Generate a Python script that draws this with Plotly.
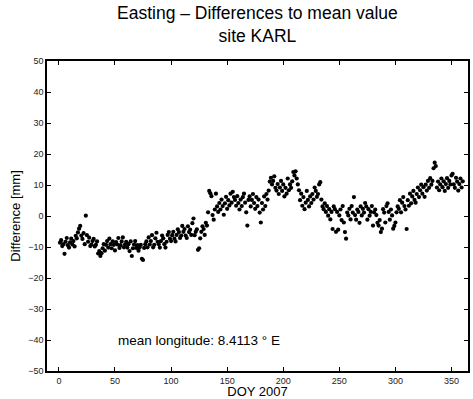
import plotly.graph_objects as go

doy = list(range(1, 361))

diff_mm = [
    -8.6, -7.8, -9.7, -9.1, -12.2, -8.3, -7.1, -9.4, -10.2, -8.5,
    -7.3, -9.2, -8.1, -9.8, -6.4, -7.2, -5.3, -4.1, -3.2, -6.3,
    -7.4, -5.5, -9.1, 0.1, -6.2, -8.3, -7.0, -9.7, -9.2, -8.1,
    -7.4, -9.8, -9.3, -8.2, -12.1, -11.3, -12.9, -12.0, -10.4, -9.1,
    -11.2, -9.3, -8.1, -10.2, -7.3, -9.1, -10.4, -8.2, -9.3, -11.1,
    -8.4, -9.2, -7.1, -10.3, -9.4, -8.2, -6.9, -10.1, -9.2, -8.3,
    -10.2, -9.1, -11.3, -8.2, -12.9, -10.4, -9.2, -8.1, -10.3, -9.4,
    -11.2, -10.1, -9.3, -13.8, -14.2, -10.3, -9.1, -8.2, -10.1, -6.9,
    -9.2, -8.1, -6.2, -10.1, -9.3, -7.2, -5.4, -8.3, -9.1, -10.2,
    -8.1, -6.3, -7.2, -9.1, -10.2, -8.3, -6.1, -5.2, -7.3, -8.1,
    -6.2, -5.1, -7.3, -8.2, -6.1, -4.3, -5.2, -7.1, -6.3, -3.2,
    -5.1, -4.2, -6.3, -7.1, -3.3, -5.2, -4.4, -6.1, -2.3, -0.8,
    -6.2, -5.1, -4.3, -10.9, -10.4, -7.2, -5.1, -3.3, -4.2, -6.1,
    -2.2, -3.1, 1.2, 8.1, 7.3, 6.4, 0.3, -1.2, 2.1, 7.2,
    3.1, 1.3, 4.2, 2.1, 5.3, 3.2, 0.4, 4.1, 6.2, 2.3,
    5.1, 3.4, 7.2, 4.3, 7.8, 6.1, 5.2, 3.3, 6.4, 4.2,
    2.1, 5.3, 3.2, 6.1, 7.2, 4.3, 1.2, -3.1, 5.2, 6.3,
    3.1, 5.2, 7.1, 4.2, 2.3, 6.1, 3.2, 5.3, 1.1, -2.1,
    4.2, 2.1, 6.3, 3.2, 7.1, 5.3, 8.2, 11.1, 12.3, 10.2,
    11.3, 12.8, 9.1, 8.2, 10.3, 7.1, 9.2, 11.3, 8.1, 10.2,
    6.3, 9.1, 7.2, 12.1, 8.3, 10.2, 9.1, 11.2, 14.2, 13.1,
    14.4, 12.1, 10.2, 8.3, 5.1, 7.2, 3.3, 6.1, 2.2, 4.3,
    8.1, 5.2, 3.1, 6.3, 4.2, 7.1, 5.3, 9.2, 8.1, 6.2,
    7.1, 10.2, 10.9, 5.3, 3.1, 2.2, 4.1, 1.3, 3.2, 0.1,
    2.2, -1.1, 1.3, -4.2, 3.1, 2.2, -5.1, 1.3, -4.4, 0.2,
    2.1, -1.3, 3.2, -2.1, -5.2, -7.3, 1.1, 0.2, 2.3, -1.1,
    3.2, 1.1, 6.1, 0.3, -1.2, 2.1, 1.3, -2.2, 3.1, 0.2,
    2.3, 1.1, 4.2, 3.1, -1.2, 2.2, 0.1, 1.3, 3.2, -3.1,
    1.2, 2.1, 0.3, -2.2, -3.1, -1.3, -5.2, -4.1, 2.2, 1.1,
    -2.1, 3.2, 4.1, 1.3, -1.2, 2.1, 0.2, -4.1, -3.2, -2.1,
    1.2, 3.1, 2.3, 5.1, 1.2, 4.3, 6.1, 3.2, 2.1, -4.2,
    5.1, 3.3, 7.2, 4.1, 6.3, 8.1, 5.2, 4.3, 7.1, 9.2,
    6.1, 8.3, 10.1, 7.2, 9.3, 6.2, 10.1, 8.2, 11.3, 9.1,
    12.2, 10.1, 11.3, 15.4, 17.2, 16.1, 9.2, 11.1, 8.3, 10.2,
    12.1, 9.3, 11.2, 8.1, 10.3, 12.2, 9.1, 11.3, 10.2, 13.1,
    13.6, 10.2, 9.1, 12.3, 11.1, 8.2, 10.3, 12.1, 9.2, 11.2,
]

x_ticks = [0, 50, 100, 150, 200, 250, 300, 350]
y_ticks = [-50, -40, -30, -20, -10, 0, 10, 20, 30, 40, 50]

font_family = "Liberation Sans, Arial, sans-serif"

fig = go.Figure()
fig.add_trace(go.Scatter(
    x=doy, y=diff_mm, mode="markers",
    marker=dict(color="black", size=4.2),
    showlegend=False,
))

fig.add_annotation(
    x=125, y=-40, xref="x", yref="y",
    text="mean longitude: 8.4113 ° E", showarrow=False,
    font=dict(family=font_family, size=13.5, color="black"),
)

# Title (two lines) placed above the plot area
fig.add_annotation(
    x=0.5, y=1.0 + 60 / 311, xref="paper", yref="paper",
    xanchor="center", yanchor="top",
    text="Easting \u2013 Differences to mean value<br>site KARL",
    showarrow=False,
    font=dict(family=font_family, size=17.5, color="black"),
)

axis_common = dict(
    showgrid=False, zeroline=False, showline=True, linecolor="black",
    linewidth=1.5, mirror="ticks", ticks="inside", ticklen=4,
    tickcolor="black", tickwidth=1,
    tickfont=dict(family=font_family, size=9, color="#222"),
)

fig.update_layout(
    width=473, height=399,
    margin=dict(l=47, r=3, t=61, b=27),
    plot_bgcolor="white", paper_bgcolor="white",
    xaxis=dict(
        range=[-10.6, 364.7], tickvals=x_ticks,
        title=dict(text="DOY 2007", standoff=1,
                   font=dict(family=font_family, size=13, color="black")),
        **axis_common,
    ),
    yaxis=dict(
        range=[-50, 50], tickvals=y_ticks,
        title=dict(text="Difference [mm]", standoff=5,
                   font=dict(family=font_family, size=13, color="black")),
        **axis_common,
    ),
)

fig.write_html("out.html")
